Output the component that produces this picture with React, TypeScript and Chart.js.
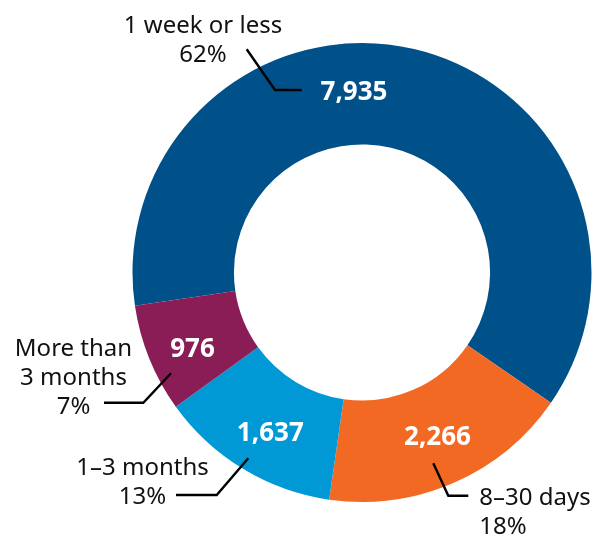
import React, { useEffect, useRef } from "react";
import { Chart, registerables } from "chart.js";

Chart.register(...registerables);

// ---- data ----
const categories: string[][] = [["1 week or less"], ["8–30 days"], ["1–3 months"], ["More than", "3 months"]];
const counts: number[] = [7935, 2266, 1637, 976];
const shares: string[] = ["62%", "18%", "13%", "7%"];
const colors: string[] = ["#00508A", "#F26924", "#0099D6", "#8B1D56"];

// ---- annotation layout (offsets from chart centre, in px at the reference radius) ----
const REF_R = 229.5;
type Callout = {
  value: [number, number];
  leader: [number, number][];
  text: [number, number];
  align: CanvasTextAlign;
};
const callouts: Callout[] = [
  { value: [-8, -181.5], leader: [[-115.3, -223.2], [-87, -182.5], [-60.3, -182.5]], text: [-159, -239.5], align: "center" },
  { value: [75.5, 163.5], leader: [[71.3, 190.8], [86.3, 223.2], [106.3, 223.2]], text: [117.3, 232.7], align: "left" },
  { value: [-91.7, 159.2], leader: [[-113.7, 185.8], [-145.3, 222.5], [-186, 222.5]], text: [-219.5, 202.5], align: "center" },
  { value: [-169.5, 75.3], leader: [[-191, 100.8], [-218.7, 130.2], [-258, 130.2]], text: [-288.5, 83.5], align: "center" },
];
const LINE_H = 29;

const calloutPlugin = {
  id: "callouts",
  afterDraw(chart: any) {
    const meta = chart.getDatasetMeta(0);
    const ctx: CanvasRenderingContext2D = chart.ctx;
    ctx.save();
    meta.data.forEach((arc: any, i: number) => {
      const cx = arc.x;
      const cy = arc.y;
      const k = arc.outerRadius / REF_R;
      const c = callouts[i];
      // leader line
      ctx.beginPath();
      c.leader.forEach(([dx, dy], j) => {
        const px = cx + dx * k;
        const py = cy + dy * k;
        if (j === 0) ctx.moveTo(px, py);
        else ctx.lineTo(px, py);
      });
      ctx.strokeStyle = "#000";
      ctx.lineWidth = 2.4;
      ctx.lineJoin = "miter";
      ctx.stroke();
      // value
      ctx.font = "bold 26px 'Noto Sans'";
      ctx.fillStyle = "#ffffff";
      ctx.textAlign = "center";
      ctx.textBaseline = "alphabetic";
      ctx.fillText(counts[i].toLocaleString("en-US"), cx + c.value[0] * k, cy + c.value[1] * k + 9.3);
      // category + share
      ctx.font = "24px 'Noto Sans'";
      ctx.fillStyle = "#111";
      ctx.textAlign = c.align;
      const lines = [...categories[i], shares[i]];
      lines.forEach((t, j) => {
        ctx.fillText(t, cx + c.text[0] * k, cy + c.text[1] * k + j * LINE_H);
      });
    });
    ctx.restore();
  },
};

export default function App() {
  const ref = useRef<HTMLCanvasElement | null>(null);
  useEffect(() => {
    if (!ref.current) return;
    const chart = new Chart(ref.current, {
      type: "doughnut",
      data: {
        labels: categories.map((c) => c.join(" ")),
        datasets: [
          {
            data: counts,
            backgroundColor: colors,
            borderWidth: 0,
          },
        ],
      },
      options: {
        responsive: false,
        animation: false,
        rotation: 261.65,
        cutout: "55.8%",
        layout: { padding: { left: 132.5, right: 14.5, top: 43, bottom: 35 } },
        plugins: {
          legend: { display: false },
          tooltip: { enabled: false },
        },
      },
      plugins: [calloutPlugin],
    });
    return () => chart.destroy();
  }, []);
  return (
    <div style={{ position: "absolute", left: 0, top: 0, width: 606, height: 537, background: "#fff" }}>
      <canvas ref={ref} width={606} height={537} style={{ display: "block" }} />
    </div>
  );
}
